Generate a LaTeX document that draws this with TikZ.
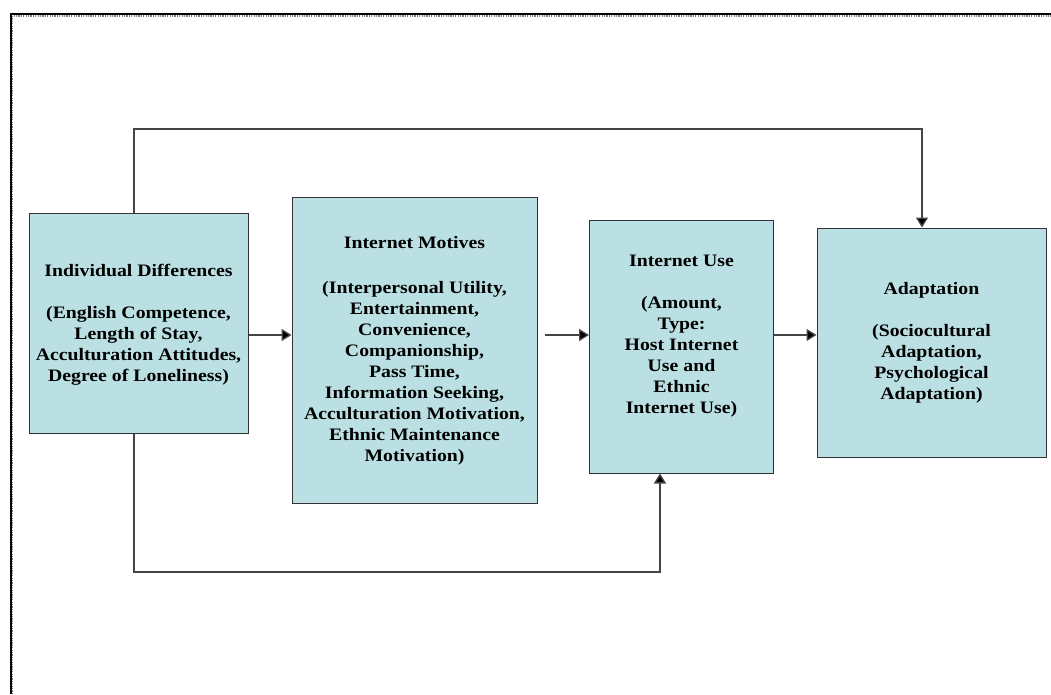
\documentclass[tikz,border=0pt]{standalone}
\usepackage{fontspec}
\setmainfont{Liberation Serif}[FakeStretch=1.13]
\usetikzlibrary{arrows.meta}
\definecolor{boxfill}{HTML}{BBE0E3}
\definecolor{boxline}{HTML}{333333}
\definecolor{connline}{HTML}{444444}
\tikzset{
  modelbox/.style={draw=boxline, line width=1pt, fill=boxfill, inner sep=0pt},
  boxtext/.style={align=center, font=\fontsize{17.5}{21}\selectfont\bfseries, inner sep=0pt},
  conn/.style={draw=connline, line width=1.3pt, -{Triangle[width=12pt,length=10pt,fill=black]}},
  plainconn/.style={draw=connline, line width=1.3pt}
}
\begin{document}
\begin{tikzpicture}[x=1pt,y=-1pt]
\useasboundingbox (0,0) rectangle (1051,694);
\fill[white] (0,0) rectangle (1051,694);
% frame
\draw[line width=1.6pt] (10.8,694) -- (10.8,14.2) -- (1051,14.2);
\draw[gray, line width=1.2pt, dash pattern=on 1.2pt off 1.2pt] (12.5,694) -- (12.5,15.9) -- (1051,15.9);

% boxes
\node[modelbox, minimum width=219pt, minimum height=220pt] (b1) at (138.5,323) {};
\node[modelbox, minimum width=245pt, minimum height=306pt] (b2) at (414.5,350) {};
\node[modelbox, minimum width=184pt, minimum height=253pt] (b3) at (681.5,346.5) {};
\node[modelbox, minimum width=229pt, minimum height=229pt] (b4) at (931.5,342.5) {};

% texts
\node[boxtext] (t1) at (138.5,325) {Individual Differences\\[21pt](English Competence,\\Length of Stay,\\Acculturation Attitudes,\\Degree of Loneliness)};
\node[boxtext] (t2) at (414.5,351) {Internet Motives\\[24pt](Interpersonal Utility,\\Entertainment,\\Convenience,\\Companionship,\\Pass Time,\\Information Seeking,\\Acculturation Motivation,\\Ethnic Maintenance\\Motivation)};
\node[boxtext] (t3) at (681.5,336) {Internet Use\\[21pt](Amount,\\Type:\\Host Internet\\Use and\\Ethnic\\Internet Use)};
\node[boxtext] (t4) at (931.5,342.5) {Adaptation\\[21pt](Sociocultural\\Adaptation,\\Psychological\\Adaptation)};

% connector helper coordinates
\coordinate (tl) at (134,129);
\coordinate (tr) at (922,129);
\coordinate (bl) at (134,572);
\coordinate (br) at (660,572);
\coordinate (mid) at (0,335);
\coordinate (s2) at (545,335);

% connectors
\draw[conn] (b1.north -| tl) -- (tl) -- (tr) -- (b4.north -| tr);
\draw[conn] (b1.south -| bl) -- (bl) -- (br) -- (b3.south -| br);
\draw[conn] (b1.east |- mid) -- (b2.west |- mid);
\draw[conn] (s2) -- (b3.west |- mid);
\draw[conn] (b3.east |- mid) -- (b4.west |- mid);
\end{tikzpicture}
\end{document}
